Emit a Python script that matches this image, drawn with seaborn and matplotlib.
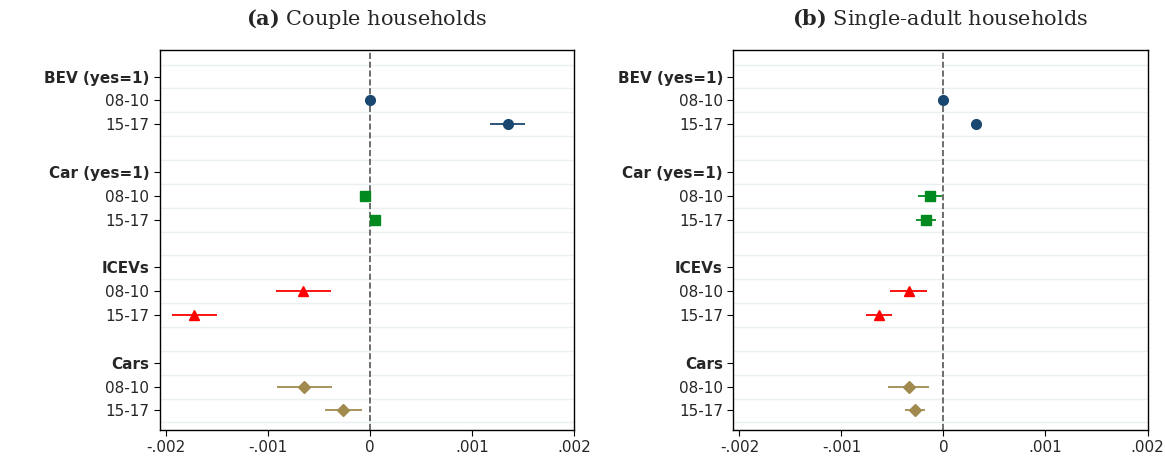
import numpy as np
import matplotlib.pyplot as plt
import seaborn as sns

groups = ["BEV (yes=1)", "Car (yes=1)", "ICEVs", "Cars"]
periods = ["08-10", "15-17"]

couple_est = [0.0, 0.00135, -0.00005, 0.00005, -0.00065, -0.00172, -0.00064, -0.00026]
couple_ci = [0.00002, 0.00017, 0.00005, 0.00005, 0.00027, 0.00022, 0.00027, 0.00018]
single_est = [0.0, 0.00032, -0.00013, -0.00017, -0.00034, -0.00063, -0.00034, -0.00028]
single_ci = [0.00001, 0.00002, 0.00012, 0.0001, 0.00018, 0.00013, 0.0002, 0.0001]

colors = ["#1a476f", "#008a1f", "#ff0000", "#a08a4e"]
markers = ["o", "s", "^", "D"]

sns.set_style("white")
plt.rcParams["mathtext.fontset"] = "dejavuserif"
fig, axes = plt.subplots(1, 2, figsize=(11.65, 4.57), dpi=100)
fig.subplots_adjust(left=0.137, right=0.985, top=0.89, bottom=0.06, wspace=0.385)

titles = [("(a)", "Couple households"), ("(b)", "Single-adult households")]
for ax, est, ci, (lab, ttl) in zip(axes, [couple_est, single_est], [couple_ci, single_ci], titles):
    ticks, labels, weights = [], [], []
    for g, name in enumerate(groups):
        base = g * 4
        ticks.append(base); labels.append(name); weights.append("bold")
        for p, per in enumerate(periods):
            y = base + 1 + p
            i = g * 2 + p
            ticks.append(y); labels.append(per); weights.append("normal")
            ax.errorbar(est[i], y, xerr=ci[i], fmt=markers[g], color=colors[g],
                        ms=7 if g != 3 else 6.5, elinewidth=1.3, capsize=0, zorder=3)
    for y in range(-1, 16):
        ax.axhline(y + 0.5, color="#eaf0f2", lw=1, zorder=0)
    ax.axvline(0, color="#555555", ls="--", lw=1.2, zorder=1)
    ax.set_ylim(14.8, -1.1)
    ax.set_xlim(-0.00206, 0.00198)
    ax.set_yticks(ticks)
    ax.set_yticklabels(labels, fontsize=11)
    for t, w in zip(ax.get_yticklabels(), weights):
        t.set_fontweight(w)
    ax.set_xticks([-0.002, -0.001, 0, 0.001, 0.002])
    ax.set_xticklabels(["-.002", "-.001", "0", ".001", ".002"], fontsize=11)
    ax.tick_params(axis="both", length=4, color="black", left=True, bottom=True)
    for s in ax.spines.values():
        s.set_color("black"); s.set_linewidth(1)
    ax.set_title(r"$\bf{" + lab + "}$ " + ttl, fontsize=15, family="DejaVu Serif", pad=18)

plt.savefig("out.png")
